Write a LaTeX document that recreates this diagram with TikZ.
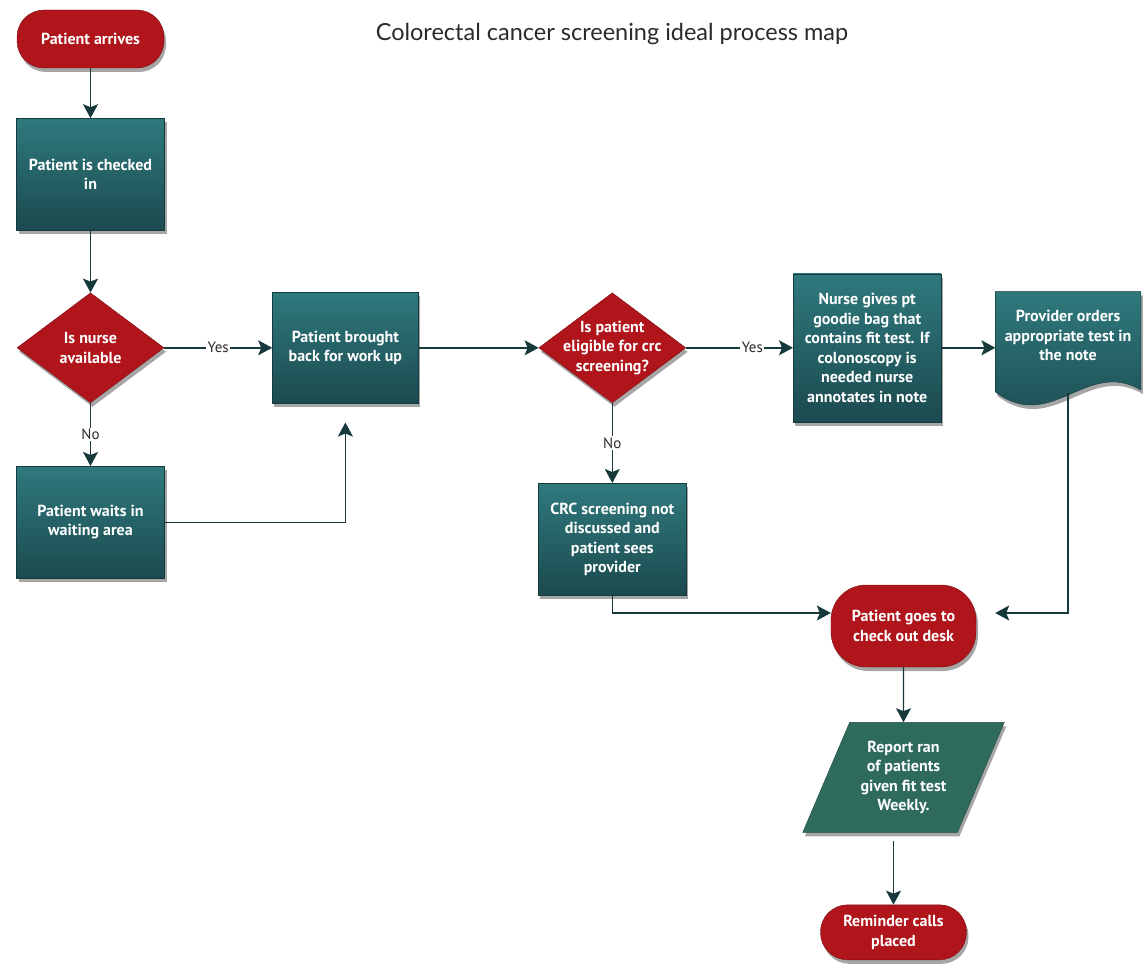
\documentclass[tikz,border=0pt]{standalone}
\usepackage{xcolor}
\usepackage{fontspec}
\usepackage{tikz}
\usetikzlibrary{positioning, arrows.meta, calc, shapes.geometric, shadows, backgrounds}
\newfontfamily\boxfont{PT Sans}
\newfontfamily\titlefont{Lato}
\definecolor{tealtop}{HTML}{2F797D}
\definecolor{tealbot}{HTML}{1B4A4F}
\definecolor{tealline}{HTML}{143A3E}
\definecolor{redfill}{HTML}{B0151B}
\definecolor{redline}{HTML}{7E0E12}
\definecolor{greenfill}{HTML}{2E6B5D}
\definecolor{conn}{HTML}{17393C}
\definecolor{text}{HTML}{2A2A2A}

\begin{document}
\begin{tikzpicture}[x=1pt, y=-1pt,
      base/.style={align=center, text=white, inner sep=0pt,
        font=\boxfont\bfseries\fontsize{16}{19.5}\selectfont},
      shadowed/.style={drop shadow={shadow xshift=2pt, shadow yshift=-4pt,
        fill=black, opacity=0.35}},
      proc/.style={base, shadowed, rectangle, draw=tealline,
        top color=tealtop, bottom color=tealbot,
        minimum width=148pt, minimum height=112pt},
      term/.style={base, shadowed, rectangle, rounded corners=27pt,
        draw=redline, fill=redfill, minimum width=147pt},
      decide/.style={base, shadowed, diamond, aspect=1.33, draw=redline,
        fill=redfill, minimum width=147pt, minimum height=110pt,
        inner sep=-10pt},
      report/.style={base, shadowed, trapezium, trapezium left angle=63,
        trapezium right angle=117, trapezium stretches=true,
        draw=greenfill!70!black, fill=greenfill,
        minimum width=202pt, minimum height=110pt},
      doc/.style={base, minimum width=145pt, minimum height=88pt},
      arrow/.style={-{Stealth[length=14pt, width=15pt, inset=3pt]},
        line width=1.4pt, color=conn},
      lbl/.style={fill=white, text=text, inner sep=1.5pt,
        font=\boxfont\fontsize{15}{17}\selectfont}]

    \useasboundingbox (0,0) rectangle (1145,968);

    \node[font=\titlefont\fontsize{23.5}{28}\selectfont, text=text] (title)
      at (612,34) {Colorectal cancer screening ideal process map};

    \node[term, minimum height=58pt] (arrive) at (90.5,39) {Patient arrives};
    \node[proc, below=50pt of arrive] (checkin) {Patient is checked\\in};
    \node[decide, below=62pt of checkin] (nurseq) {Is nurse\\available};
    \node[proc, below=63pt of nurseq] (waits) {Patient waits in\\waiting area};
    \node[proc, minimum width=146pt, minimum height=111pt, right=108pt of nurseq]
      (brought) {Patient brought\\back for work up};
    \node[decide, right=120pt of brought] (eligq)
      {Is patient\\eligible for crc\\screening?};
    \node[proc, minimum height=148pt, right=107pt of eligq] (nursebag)
      {Nurse gives pt\\goodie bag that\\contains fit test. If\\colonoscopy is\\needed nurse\\annotates in note};
    \node[doc, right=54pt of nursebag, yshift=12pt] (provider)
      {Provider orders\\appropriate test in\\the note};
    \node[proc, below=80pt of eligq] (crc)
      {CRC screening not\\discussed and\\patient sees\\provider};
    \node[term, rounded corners=35pt, minimum width=145pt, minimum height=82pt]
      (checkout) at (903.5,626) {Patient goes to\\check out desk};
    \node[report, below=55pt of checkout] (report)
      {Report ran\\of patients\\given fit test\\Weekly.};
    \node[term, minimum width=146pt, minimum height=55pt, below=72pt of report,
      xshift=-10pt] (reminder) {Reminder calls\\placed};

    % document shape behind the provider text
    \begin{scope}[on background layer]
      \shade[top color=tealtop, bottom color=tealbot, draw=tealline, shadowed]
        (provider.north west) -- (provider.north east)
        -- ([yshift=-10pt]provider.south east)
        .. controls ([xshift=-54pt, yshift=22pt]provider.south east)
        and ([xshift=56pt, yshift=-54pt]provider.south west)
        .. ([yshift=-12pt]provider.south west) -- cycle;
    \end{scope}

    \draw[arrow] (arrive) -- (checkin);
    \draw[arrow] (checkin) -- (nurseq);
    \draw[arrow] (nurseq) -- node[lbl] {Yes} (brought);
    \draw[arrow] (nurseq) -- node[lbl] {No} (waits);
    \draw[arrow, shorten >=19pt] (waits.east) -| (brought.south);
    \draw[arrow] (brought) -- (eligq);
    \draw[arrow] (eligq) -- node[lbl, pos=0.62] {Yes} (nursebag);
    \draw[arrow] (nursebag.east) -- (nursebag.east -| provider.west);
    \draw[arrow] (eligq) -- node[lbl] {No} (crc);
    \draw[arrow] (crc.south) |- ([yshift=13pt]checkout.west);
    \draw[arrow, shorten >=19pt] ([yshift=-13pt]provider.south)
      |- ([yshift=13pt]checkout.east);
    \draw[arrow] (checkout) -- (report);
    \draw[arrow, shorten <=8pt] (report.south -| reminder.north) -- (reminder.north);
  \end{tikzpicture}
\end{document}
